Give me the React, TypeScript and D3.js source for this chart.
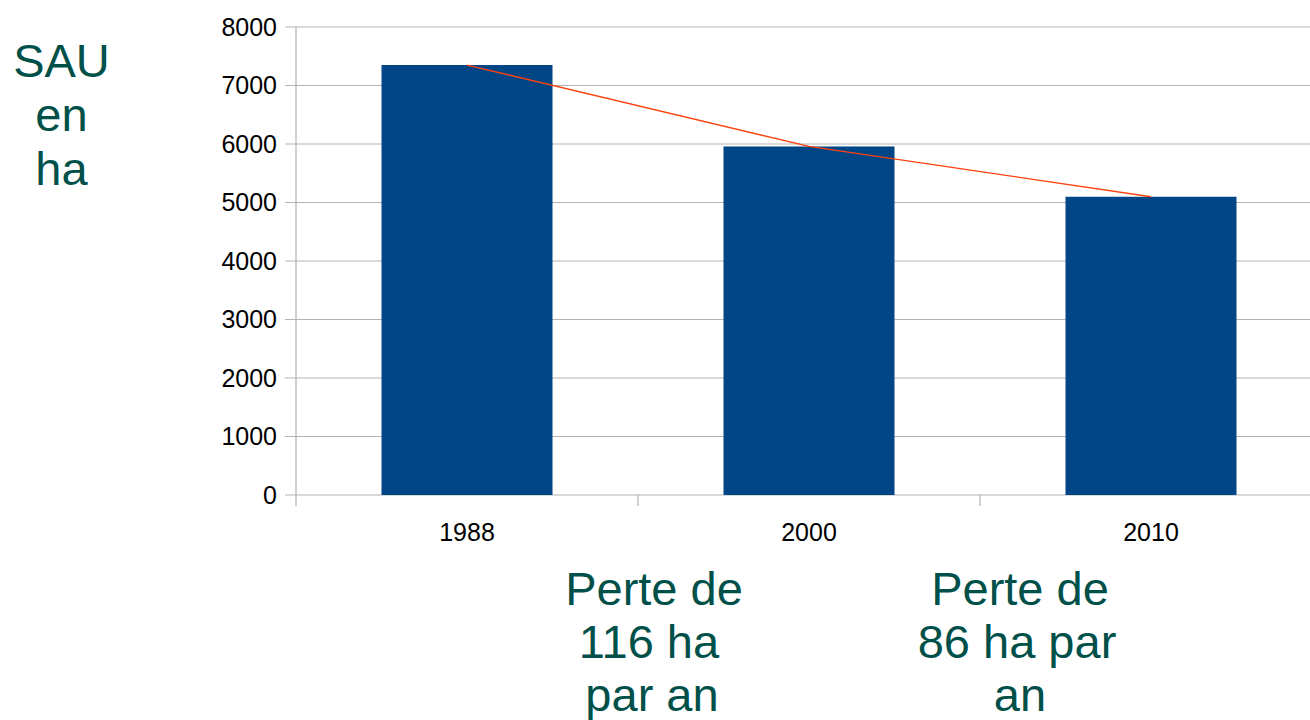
import React from "react";
import * as d3 from "d3";

const years = ["1988", "2000", "2010"];
const sau = [7350, 5958, 5098];
const yTicks = [0, 1000, 2000, 3000, 4000, 5000, 6000, 7000, 8000];
const titleLines = ["SAU", "en", "ha"];
const note1 = ["Perte de", "116 ha", "par an"];
const note2 = ["Perte de", "86 ha par", "an"];

const W = 1310;
const H = 720;
const FONT = "'Liberation Sans', Arial, sans-serif";
const TEAL = "#00504a";
const GRID = "#b3b3b3";

export default function App() {
  const x = d3.scaleBand<string>().domain(years).range([296, 1322]).paddingInner(0.5).paddingOuter(0.25);
  const xb = d3.scaleBand<string>().domain(years).range([296, 1322]);
  const y = d3.scaleLinear().domain([0, 8000]).range([495, 27]);
  const line = d3
    .line<number>()
    .x((_, i) => (x(years[i]) as number) + x.bandwidth() / 2)
    .y((d) => y(d));
  const note1X = [654, 649, 652];
  const note2X = [1020, 1017, 1020];
  const noteY = [605, 658, 711];

  return (
    <svg
      width={W}
      height={H}
      style={{ position: "absolute", left: 0, top: 0, background: "#fff" }}
      fontFamily={FONT}
    >
      {yTicks.map((t) => (
        <g key={t}>
          <line x1={285} x2={W} y1={y(t)} y2={y(t)} stroke={GRID} strokeWidth={1.2} />
          <text x={277} y={y(t)} dy="0.35em" textAnchor="end" fontSize={25} fill="#000">
            {t}
          </text>
        </g>
      ))}
      <line x1={296} x2={296} y1={y(8000)} y2={506} stroke={GRID} strokeWidth={1.2} />
      {years.map((yr, i) =>
        i > 0 ? (
          <line key={yr} x1={xb(yr)} x2={xb(yr)} y1={495} y2={506} stroke={GRID} strokeWidth={1.2} />
        ) : null
      )}
      {years.map((yr, i) => (
        <rect
          key={yr}
          x={x(yr)}
          y={y(sau[i])}
          width={x.bandwidth()}
          height={y(0) - y(sau[i])}
          fill="#004586"
        />
      ))}
      <path d={line(sau) || ""} fill="none" stroke="#ff420e" strokeWidth={1.3} />
      {years.map((yr) => (
        <text
          key={yr}
          x={(xb(yr) as number) + xb.bandwidth() / 2}
          y={541}
          textAnchor="middle"
          fontSize={25}
          fill="#000"
        >
          {yr}
        </text>
      ))}
      {titleLines.map((s, i) => (
        <text key={s} x={61.5} y={77 + i * 54} textAnchor="middle" fontSize={47} fill={TEAL}>
          {s}
        </text>
      ))}
      {note1.map((s, i) => (
        <text key={s} x={note1X[i]} y={noteY[i]} textAnchor="middle" fontSize={47} fill={TEAL}>
          {s}
        </text>
      ))}
      {note2.map((s, i) => (
        <text key={s} x={note2X[i]} y={noteY[i]} textAnchor="middle" fontSize={47} fill={TEAL}>
          {s}
        </text>
      ))}
    </svg>
  );
}
